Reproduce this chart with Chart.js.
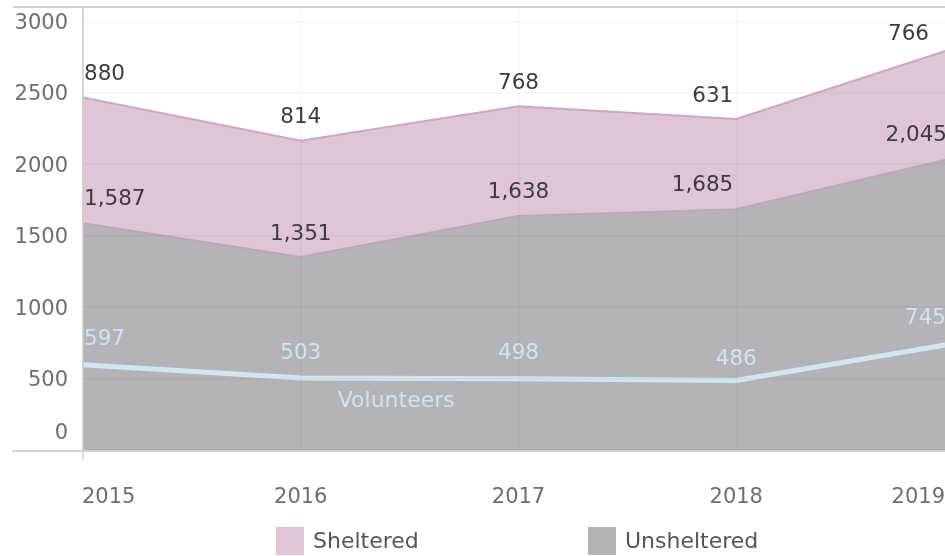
<!DOCTYPE html>
<html>
<head>
<meta charset="utf-8">
<script src="https://cdn.jsdelivr.net/npm/chart.js@4/dist/chart.umd.min.js"></script>
<style>
  html, body { margin: 0; padding: 0; background: #fff; }
  #wrap { position: relative; width: 945px; height: 556px; overflow: hidden; font-family: "DejaVu Sans", sans-serif; }
  #box { position: absolute; left: 0; top: 0; width: 960px; height: 556px; }
  .sw { position: absolute; top: 527px; width: 28px; height: 28px; }
  .lt { position: absolute; top: 527px; font-size: 22px; color: #555; line-height: 28px; }
</style>
</head>
<body>
<div id="wrap">
  <div id="box"><canvas id="c" width="960" height="556"></canvas></div>
  <div class="sw" style="left:276px;background:#dec6d8"></div>
  <div class="lt" style="left:313px">Sheltered</div>
  <div class="sw" style="left:588px;background:#b4b4b6"></div>
  <div class="lt" style="left:625px">Unsheltered</div>
</div>
<script>
// data
const years = ["2015", "2016", "2017", "2018", "2019"];
const unsheltered = [1587, 1351, 1638, 1685, 2045];
const sheltered = [880, 814, 768, 631, 766];
const volunteers = [597, 503, 498, 486, 745];
const yTicks = [0, 500, 1000, 1500, 2000, 2500, 3000];

// label placement: [align, dx, dy]
const shelteredPos = [["left", 1, -23], ["center", 0, -23], ["center", 0, -23], ["right", -3, -23], ["right", -16, -14]];
const unshelteredPos = [["left", 1, -24], ["center", 0, -23], ["center", 0, -24], ["right", -3, -24], ["right", 2, -22]];
const volunteersPos = [["left", 1, -25], ["center", 0, -25], ["center", 0, -25], ["center", 0, -21], ["right", 1, -25]];

const fmt = (v) => v.toLocaleString("en-US");
const VIEW_RIGHT = 945;
const FONT = '21.5px "DejaVu Sans"';

const labelsPlugin = {
  id: "labels",
  afterDatasetsDraw(chart) {
    const ctx = chart.ctx;
    const area = chart.chartArea;
    ctx.save();
    ctx.font = FONT;
    ctx.textBaseline = "middle";
    const sets = [
      [2, sheltered, shelteredPos, "#3c3c3c"],
      [1, unsheltered, unshelteredPos, "#3c3c3c"],
      [0, volunteers, volunteersPos, "#cde5f4"],
    ];
    sets.forEach(([idx, vals, pos, col]) => {
      const meta = chart.getDatasetMeta(idx);
      meta.data.forEach((pt, i) => {
        const [al, dx, dy] = pos[i];
        ctx.textAlign = al;
        ctx.fillStyle = col;
        ctx.fillText(fmt(vals[i]), Math.min(pt.x, VIEW_RIGHT) + dx, pt.y + dy);
      });
    });
    // line label for volunteers
    const vm = chart.getDatasetMeta(0);
    ctx.textAlign = "left";
    ctx.fillStyle = "#cde5f4";
    ctx.font = '22px "DejaVu Sans"';
    ctx.fillText("Volunteers", vm.data[1].x + 37, 401);

    // axis labels
    ctx.font = '21px "DejaVu Sans"';
    const xs = chart.scales.x, ys = chart.scales.y;
    ctx.fillStyle = "#6e6e6e";
    years.forEach((y, i) => {
      let x = xs.getPixelForValue(i);
      if (i === 0) { ctx.textAlign = "left"; x = area.left - 1; }
      else if (i === years.length - 1) { ctx.textAlign = "right"; x = VIEW_RIGHT; }
      else ctx.textAlign = "center";
      ctx.fillText(y, x, 498);
    });
    ctx.textAlign = "right";
    yTicks.forEach((t) => {
      let y = ys.getPixelForValue(t);
      if (t === 0) y -= 16; else y += 2;
      ctx.fillText(String(t), 68, y);
    });

    // axis lines
    ctx.strokeStyle = "#d2d2d2";
    ctx.lineWidth = 2;
    ctx.beginPath();
    ctx.moveTo(12, area.bottom + 1); ctx.lineTo(chart.width, area.bottom + 1);
    ctx.moveTo(13, area.top); ctx.lineTo(chart.width, area.top);
    ctx.stroke();
    ctx.lineWidth = 1.5;
    ctx.strokeStyle = "#d0d0d0";
    ctx.beginPath();
    ctx.moveTo(area.left, area.top); ctx.lineTo(area.left, area.bottom + 10);
    ctx.stroke();
    ctx.restore();
  }
};

new Chart(document.getElementById("c"), {
  type: "line",
  data: {
    labels: years,
    datasets: [
      {
        label: "Volunteers",
        data: volunteers,
        stack: "vol",
        borderColor: "#cfe7f5",
        borderWidth: 5,
        fill: false,
        pointRadius: 0,
      },
      {
        label: "Unsheltered",
        data: unsheltered,
        stack: "people",
        borderColor: "#bfa6b9",
        borderWidth: 2,
        backgroundColor: "#b4b4b6",
        fill: "origin",
        pointRadius: 0,
      },
      {
        label: "Sheltered",
        data: sheltered,
        stack: "people",
        borderColor: "#cba8c2",
        borderWidth: 2,
        backgroundColor: "#dec6d8",
        fill: "-1",
        pointRadius: 0,
      },
    ],
  },
  plugins: [labelsPlugin],
  options: {
    responsive: false,
    animation: false,
    layout: { padding: { left: 83, right: 6, top: 7, bottom: 106 } },
    plugins: { legend: { display: false }, tooltip: { enabled: false } },
    scales: {
      x: {
        ticks: { display: false },
        border: { display: false },
        grid: { color: "rgba(0,0,0,0.035)", lineWidth: 1.5, z: 1, drawTicks: false },
      },
      y: {
        stacked: true,
        min: 0,
        max: 3100,
        afterBuildTicks: (s) => { s.ticks = yTicks.map((v) => ({ value: v })); },
        ticks: { display: false },
        border: { display: false },
        grid: { color: "rgba(0,0,0,0.04)", lineWidth: 1.5, z: 1, drawTicks: false },
      },
    },
  },
});
</script>
</body>
</html>
